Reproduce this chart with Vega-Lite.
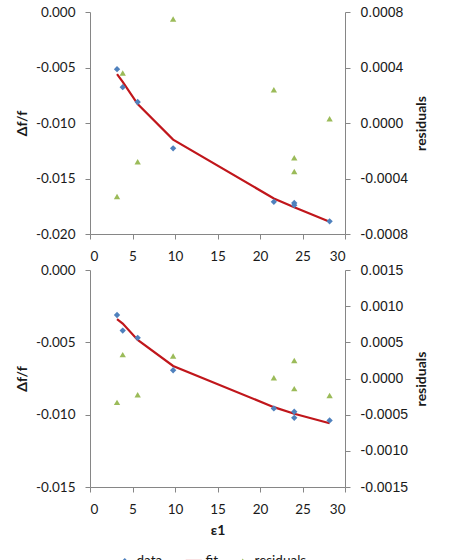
{
  "$schema": "https://vega.github.io/schema/vega-lite/v6.json",
  "background": "white",
  "padding": {"left": 15, "top": 5, "right": 5, "bottom": 0},
  "config": {
    "font": "Lato",
    "view": {"stroke": null},
    "concat": {"spacing": 0},
    "axis": {
      "grid": false,
      "domainColor": "#868686",
      "tickColor": "#868686",
      "tickSize": 5,
      "labelPadding": 10,
      "labelFont": "Lato",
      "labelFontSize": 13.5,
      "labelColor": "#1a1a1a",
      "titleFont": "Lato",
      "titleFontSize": 14,
      "titleFontWeight": "bold",
      "titleColor": "#1a1a1a"
    },
    "legend": {
      "orient": "none",
      "legendX": 28,
      "legendY": 542,
      "direction": "horizontal",
      "labelFont": "Lato",
      "labelFontSize": 13.5,
      "labelColor": "#1a1a1a",
      "labelOffset": 5,
      "columnPadding": 17
    }
  },
  "data": {
    "values": [
      {"panel": "top", "series": "data", "x": 3.18, "y": -0.00515},
      {"panel": "top", "series": "data", "x": 3.85, "y": -0.00677},
      {"panel": "top", "series": "data", "x": 5.61, "y": -0.00811},
      {"panel": "top", "series": "data", "x": 9.78, "y": -0.01228},
      {"panel": "top", "series": "data", "x": 21.63, "y": -0.0171},
      {"panel": "top", "series": "data", "x": 24.03, "y": -0.0172},
      {"panel": "top", "series": "data", "x": 24.03, "y": -0.0174},
      {"panel": "top", "series": "data", "x": 28.19, "y": -0.01886},
      {"panel": "top", "series": "fit", "x": 3.18, "y": -0.0056},
      {"panel": "top", "series": "fit", "x": 3.85, "y": -0.0063},
      {"panel": "top", "series": "fit", "x": 5.61, "y": -0.0083},
      {"panel": "top", "series": "fit", "x": 9.78, "y": -0.0115},
      {"panel": "top", "series": "fit", "x": 21.63, "y": -0.0168},
      {"panel": "top", "series": "fit", "x": 24.03, "y": -0.0176},
      {"panel": "top", "series": "fit", "x": 28.19, "y": -0.0189},
      {"panel": "top", "series": "residuals", "x": 3.18, "y": -0.00053},
      {"panel": "top", "series": "residuals", "x": 3.85, "y": 0.00036},
      {"panel": "top", "series": "residuals", "x": 5.61, "y": -0.00028},
      {"panel": "top", "series": "residuals", "x": 9.78, "y": 0.00075},
      {"panel": "top", "series": "residuals", "x": 21.63, "y": 0.00024},
      {"panel": "top", "series": "residuals", "x": 24.03, "y": -0.00025},
      {"panel": "top", "series": "residuals", "x": 24.03, "y": -0.00035},
      {"panel": "top", "series": "residuals", "x": 28.19, "y": 0.00003},
      {"panel": "bottom", "series": "data", "x": 3.18, "y": -0.00311},
      {"panel": "bottom", "series": "data", "x": 3.85, "y": -0.00419},
      {"panel": "bottom", "series": "data", "x": 5.61, "y": -0.00469},
      {"panel": "bottom", "series": "data", "x": 9.78, "y": -0.00693},
      {"panel": "bottom", "series": "data", "x": 21.63, "y": -0.00957},
      {"panel": "bottom", "series": "data", "x": 24.03, "y": -0.0098},
      {"panel": "bottom", "series": "data", "x": 24.03, "y": -0.01022},
      {"panel": "bottom", "series": "data", "x": 28.19, "y": -0.0104},
      {"panel": "bottom", "series": "fit", "x": 3.18, "y": -0.0034},
      {"panel": "bottom", "series": "fit", "x": 3.85, "y": -0.0037},
      {"panel": "bottom", "series": "fit", "x": 5.61, "y": -0.00483},
      {"panel": "bottom", "series": "fit", "x": 9.78, "y": -0.00663},
      {"panel": "bottom", "series": "fit", "x": 21.63, "y": -0.00948},
      {"panel": "bottom", "series": "fit", "x": 24.03, "y": -0.00994},
      {"panel": "bottom", "series": "fit", "x": 28.19, "y": -0.01059},
      {"panel": "bottom", "series": "residuals", "x": 3.18, "y": -0.00033},
      {"panel": "bottom", "series": "residuals", "x": 3.85, "y": 0.00033},
      {"panel": "bottom", "series": "residuals", "x": 5.61, "y": -0.000225},
      {"panel": "bottom", "series": "residuals", "x": 9.78, "y": 0.00031},
      {"panel": "bottom", "series": "residuals", "x": 21.63, "y": 0.00001},
      {"panel": "bottom", "series": "residuals", "x": 24.03, "y": 0.00025},
      {"panel": "bottom", "series": "residuals", "x": 24.03, "y": -0.00014},
      {"panel": "bottom", "series": "residuals", "x": 28.19, "y": -0.000235}
    ]
  },
  "vconcat": [
    {
      "width": 255,
      "height": 222,
      "transform": [{"filter": "datum.panel === 'top'"}],
      "encoding": {
        "x": {"field": "x", "type": "quantitative", "scale": {"domain": [0, 30]}, "axis": {"values": [0, 5, 10, 15, 20, 25, 30], "title": null}},
        "color": {"field": "series", "type": "nominal", "scale": {"domain": ["data", "fit", "residuals"], "range": ["#4F81BD", "#C0161B", "#9BBB59"]},
          "legend": {"title": null, "encode": {"symbols": {"update": {"stroke": {"scale": "color", "field": "value"}, "strokeWidth": {"signal": "datum.value === 'fit' ? 2.5 : 0"}, "size": {"signal": "datum.value === 'fit' ? 260 : 40"}}}}}},
        "shape": {"field": "series", "type": "nominal", "scale": {"domain": ["data", "fit", "residuals"], "range": ["diamond", "stroke", "triangle-up"]}, "legend": {"title": null}}
      },
      "layer": [
        {
          "transform": [{"filter": "datum.series === 'fit'"}],
          "mark": {"type": "line", "strokeWidth": 2.2},
          "encoding": {
            "y": {"field": "y", "type": "quantitative", "scale": {"domain": [-0.02, 0]}, "axis": {"title": "Δf/f", "values": [0, -0.005, -0.01, -0.015, -0.02], "labelExpr": "replace(format(datum.value, '.3f'), '−', '-')", "titlePadding": 6}}
          }
        },
        {
          "transform": [{"filter": "datum.series === 'data'"}],
          "mark": {"type": "point", "filled": true, "opacity": 1, "size": 40},
          "encoding": {
            "y": {"field": "y", "type": "quantitative", "scale": {"domain": [-0.02, 0]}, "axis": null}
          }
        },
        {
          "transform": [{"filter": "datum.series === 'residuals'"}],
          "mark": {"type": "point", "filled": true, "opacity": 1, "size": 40},
          "encoding": {
            "y": {"field": "y", "type": "quantitative", "scale": {"domain": [-0.0008, 0.0008]}, "axis": {"orient": "right", "title": "residuals", "titleAngle": 270, "titleBaseline": "top", "values": [-0.0008, -0.0004, 0, 0.0004, 0.0008], "labelExpr": "replace(format(datum.value, '.4f'), '−', '-')", "labelFont": "Liberation Sans", "labelFontSize": 14, "titlePadding": 7}}
          }
        }
      ],
      "resolve": {"scale": {"y": "independent"}}
    },
    {
      "width": 255,
      "height": 217,
      "transform": [{"filter": "datum.panel === 'bottom'"}],
      "encoding": {
        "x": {"field": "x", "type": "quantitative", "scale": {"domain": [0, 30]}, "axis": {"values": [0, 5, 10, 15, 20, 25, 30], "title": "ε1", "titlePadding": 8}},
        "color": {"field": "series", "type": "nominal", "scale": {"domain": ["data", "fit", "residuals"], "range": ["#4F81BD", "#C0161B", "#9BBB59"]}},
        "shape": {"field": "series", "type": "nominal", "scale": {"domain": ["data", "fit", "residuals"], "range": ["diamond", "stroke", "triangle-up"]}}
      },
      "layer": [
        {
          "transform": [{"filter": "datum.series === 'fit'"}],
          "mark": {"type": "line", "strokeWidth": 2.2},
          "encoding": {
            "y": {"field": "y", "type": "quantitative", "scale": {"domain": [-0.015, 0]}, "axis": {"title": "Δf/f", "values": [0, -0.005, -0.01, -0.015], "labelExpr": "replace(format(datum.value, '.3f'), '−', '-')", "titlePadding": 6}}
          }
        },
        {
          "transform": [{"filter": "datum.series === 'data'"}],
          "mark": {"type": "point", "filled": true, "opacity": 1, "size": 40},
          "encoding": {
            "y": {"field": "y", "type": "quantitative", "scale": {"domain": [-0.015, 0]}, "axis": null}
          }
        },
        {
          "transform": [{"filter": "datum.series === 'residuals'"}],
          "mark": {"type": "point", "filled": true, "opacity": 1, "size": 40},
          "encoding": {
            "y": {"field": "y", "type": "quantitative", "scale": {"domain": [-0.0015, 0.0015]}, "axis": {"orient": "right", "title": "residuals", "titleAngle": 270, "titleBaseline": "top", "values": [-0.0015, -0.001, -0.0005, 0, 0.0005, 0.001, 0.0015], "labelExpr": "replace(format(datum.value, '.4f'), '−', '-')", "labelFont": "Liberation Sans", "labelFontSize": 14, "titlePadding": 7}}
          }
        }
      ],
      "resolve": {"scale": {"y": "independent"}}
    }
  ]
}
